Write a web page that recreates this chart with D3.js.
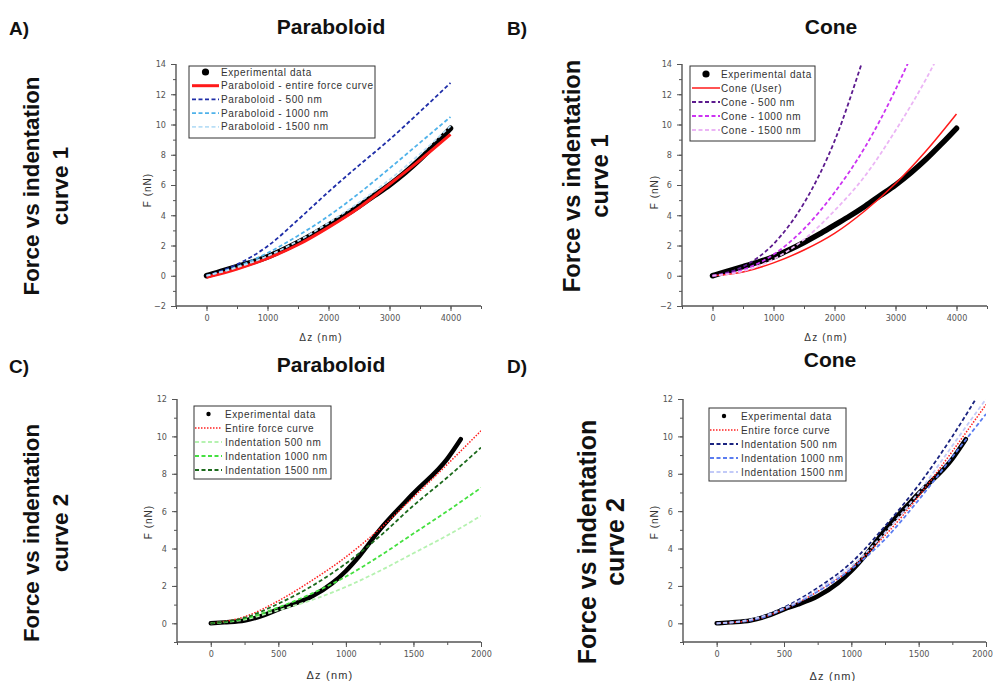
<!DOCTYPE html>
<html>
<head>
<meta charset="utf-8">
<script src="https://cdn.jsdelivr.net/npm/d3@7"></script>
<style>
  body { margin: 0; background: #fff; }
  svg { display: block; }
  .tick text { font-family: "Liberation Sans Narrow", "DejaVu Sans Condensed", "Liberation Sans", sans-serif; font-size: 9px; fill: #555; }
  .lab { font-family: "Liberation Sans", Arial, sans-serif; fill: #333; }
  .big { font-family: "Liberation Sans", Arial, sans-serif; font-weight: bold; fill: #111; }
</style>
</head>
<body>
<div id="chart"></div>
<script>
///////////////////// Data ////////////////////////

// curve 1 (panels A and B), indentation in nm, force in nN
var expZ1 = [0, 100, 250, 500, 750, 1000, 1250, 1500, 1750, 2000, 2250, 2500, 2750, 3000, 3250, 3500, 3750, 4000];
var expF1 = [0, 0.12, 0.3, 0.6, 0.9, 1.25, 1.7, 2.2, 2.75, 3.35, 3.95, 4.6, 5.3, 6.0, 6.8, 7.7, 8.7, 9.75];

var fitZ1 = [0, 500, 1000, 1500, 2000, 2500, 3000, 3500, 4000];
var paraEntire1 = [-0.1, 0.45, 1.15, 2.05, 3.2, 4.5, 6.05, 7.65, 9.35];
var para500_1 = [0, 0.75, 1.95, 3.7, 5.55, 7.3, 9.0, 10.85, 12.75];
var para1000_1 = [0, 0.6, 1.5, 2.65, 3.95, 5.45, 7.1, 8.8, 10.5];
var para1500_1 = [0, 0.55, 1.3, 2.3, 3.5, 4.85, 6.35, 8.05, 9.9];

var coneUser1 = [0, 0.25, 0.85, 1.7, 2.8, 4.3, 6.1, 8.25, 10.7];
var cone500_1 = [0, 0.6, 2.1, 4.8, 8.9, 14.7, 21, 28, 36];
var cone1000_1 = [0, 0.4, 1.4, 3.1, 5.5, 8.5, 12.3, 16.8, 21.9];
var cone1500_1 = [0, 0.3, 1.1, 2.4, 4.3, 6.6, 9.6, 13.0, 17.0];

// curve 2 (panels C and D)
var expZ2 = [0, 100, 250, 400, 500, 600, 750, 900, 1000, 1100, 1250, 1500, 1750, 1850];
var expF2 = [0, 0.05, 0.15, 0.45, 0.75, 1.0, 1.45, 2.15, 2.8, 3.6, 5.0, 6.95, 8.8, 9.85];

var fitZ2 = [0, 250, 500, 750, 1000, 1250, 1500, 1750, 2000];
var paraEntire2 = [0, 0.35, 1.2, 2.3, 3.55, 5.05, 6.75, 8.5, 10.3];
var para500_2 = [0, 0.2, 0.7, 1.25, 1.95, 2.8, 3.75, 4.7, 5.75];
var para1000_2 = [0, 0.25, 0.85, 1.6, 2.5, 3.6, 4.8, 6.0, 7.25];
var para1500_2 = [0, 0.3, 1.05, 2.0, 3.2, 4.65, 6.3, 7.8, 9.4];

var coneEntire2 = [0, 0.15, 0.75, 1.7, 2.95, 4.7, 6.8, 9.2, 11.7];
var cone500_2 = [0, 0.2, 0.85, 1.9, 3.25, 5.2, 7.4, 10.0, 12.9];
var cone1000_2 = [0, 0.15, 0.75, 1.7, 2.9, 4.5, 6.6, 8.9, 11.2];
var cone1500_2 = [0, 0.2, 0.8, 1.8, 3.05, 4.85, 7.0, 9.5, 12.0];

// tick labels
var xTicks1 = [0, 1000, 2000, 3000, 4000];
var yTicks1 = [-2, 0, 2, 4, 6, 8, 10, 12, 14];
var xTicks2 = [0, 500, 1000, 1500, 2000];
var yTicks2 = [0, 2, 4, 6, 8, 10, 12];

//////////////////////////////////////////////////////////////////////

var width = 995, height = 681;
var svg = d3.select("#chart").append("svg")
    .attr("width", width).attr("height", height);

var zip = function(zs, fs) {
    return zs.map(function(z, i) { return [z, fs[i]]; });
};

var panels = [
  {id: "A", letter: "A)", title: "Paraboloid", titleX: 331, titleY: 34,
   letterX: 9, letterY: 35, rowX: 31, rowY: 186, rowSize: 22.4, rowGap: 29, curveNo: "curve 1",
   xDom: [-500, 4500], xRange: [176, 481], yDom: [-2, 14], yRange: [306, 64],
   xMajor: xTicks1, xMinorStep: 500, yMajor: yTicks1, yMinorStep: 1,
   fyX: 147, fyY: 190, dzX: 321, dzY: 341, dzSize: 10,
   expWidth: 5.5, expZ: expZ1, expF: expF1, fitZ: fitZ1,
   legend: {x0: 189, y0: 66, x1: 375, y1: 138, sx0: 192, sx1: 219, tx: 221, rows: [72, 85.7, 99.4, 113.1, 126.8], dot: 3.6, fs: 10},
   series: [
     {name: "Paraboloid - entire force curve", vals: paraEntire1, color: "#ff1a1a", w: 3, dash: null},
     {name: "Paraboloid - 500 nm", vals: para500_1, color: "#1f2ea8", w: 1.8, dash: "4,2.5"},
     {name: "Paraboloid - 1000 nm", vals: para1000_1, color: "#4fb2ea", w: 1.8, dash: "4,2.5"},
     {name: "Paraboloid - 1500 nm", vals: para1500_1, color: "#b8def6", w: 1.8, dash: "4,2.5"}
   ]},
  {id: "B", letter: "B)", title: "Cone", titleX: 831, titleY: 34,
   letterX: 507, letterY: 35, rowX: 572, rowY: 176, rowSize: 23.8, rowGap: 28, curveNo: "curve 1",
   xDom: [-500, 4500], xRange: [682, 987], yDom: [-2, 14], yRange: [306, 64],
   xMajor: xTicks1, xMinorStep: 500, yMajor: yTicks1, yMinorStep: 1,
   fyX: 654, fyY: 192, dzX: 826, dzY: 341, dzSize: 10,
   expWidth: 5.5, expZ: expZ1, expF: expF1, fitZ: fitZ1,
   legend: {x0: 690, y0: 66, x1: 815, y1: 141, sx0: 692, sx1: 720, tx: 721, rows: [74, 88, 102, 116, 130], dot: 3.6, fs: 10},
   series: [
     {name: "Cone (User)", vals: coneUser1, color: "#ff1a1a", w: 1.5, dash: null},
     {name: "Cone - 500 nm", vals: cone500_1, color: "#5c1a8e", w: 1.8, dash: "4,2.5"},
     {name: "Cone - 1000 nm", vals: cone1000_1, color: "#cc33f2", w: 1.8, dash: "4,2.5"},
     {name: "Cone - 1500 nm", vals: cone1500_1, color: "#ebb5f5", w: 1.8, dash: "4,2.5"}
   ]},
  {id: "C", letter: "C)", title: "Paraboloid", titleX: 331, titleY: 372,
   letterX: 9, letterY: 373, rowX: 31, rowY: 533, rowSize: 22.3, rowGap: 29, curveNo: "curve 2",
   xDom: [-250, 2000], xRange: [177, 481], yDom: [-1, 12], yRange: [642, 399],
   xMajor: xTicks2, xMinorStep: 250, yMajor: yTicks2, yMinorStep: 1,
   fyX: 148, fyY: 522, dzX: 330, dzY: 679, dzSize: 11,
   expWidth: 4.5, expZ: expZ2, expF: expF2, fitZ: fitZ2,
   legend: {x0: 194, y0: 406, x1: 331, y1: 479, sx0: 195, sx1: 222, tx: 225, rows: [414, 428, 442, 456, 470], dot: 2.2, fs: 10},
   series: [
     {name: "Entire force curve", vals: paraEntire2, color: "#ff2020", w: 1.5, dash: "1.5,1.5"},
     {name: "Indentation 500 nm", vals: para500_2, color: "#b5f2b0", w: 1.8, dash: "4,2.5"},
     {name: "Indentation 1000 nm", vals: para1000_2, color: "#45e040", w: 1.8, dash: "4,2.5"},
     {name: "Indentation 1500 nm", vals: para1500_2, color: "#1c6a1c", w: 1.8, dash: "4,2.5"}
   ]},
  {id: "D", letter: "D)", title: "Cone", titleX: 830, titleY: 367,
   letterX: 507, letterY: 373, rowX: 587, rowY: 542, rowSize: 25, rowGap: 28, curveNo: "curve 2",
   xDom: [-250, 2000], xRange: [683, 986], yDom: [-1, 12], yRange: [642, 399],
   xMajor: xTicks2, xMinorStep: 250, yMajor: yTicks2, yMinorStep: 1,
   fyX: 654, fyY: 522, dzX: 833, dzY: 680, dzSize: 11,
   expWidth: 4.5, expZ: expZ2, expF: expF2, fitZ: fitZ2,
   legend: {x0: 709, y0: 408, x1: 846, y1: 481, sx0: 710, sx1: 738, tx: 741, rows: [416, 430, 444, 458, 472], dot: 2.2, fs: 10},
   series: [
     {name: "Entire force curve", vals: coneEntire2, color: "#ff2020", w: 1.5, dash: "1.5,1.5"},
     {name: "Indentation 500 nm", vals: cone500_2, color: "#1a2380", w: 1.8, dash: "4,2.5"},
     {name: "Indentation 1000 nm", vals: cone1000_2, color: "#5a7cf0", w: 1.8, dash: "4,2.5"},
     {name: "Indentation 1500 nm", vals: cone1500_2, color: "#c2caf8", w: 1.8, dash: "4,2.5"}
   ]}
];

var drawPanel = function(p) {
    var x = d3.scaleLinear().domain(p.xDom).range(p.xRange);
    var y = d3.scaleLinear().domain(p.yDom).range(p.yRange);
    var g = svg.append("g").attr("class", "panel-" + p.id);

    // clip to the plot area
    g.append("clipPath").attr("id", "clip" + p.id)
      .append("rect")
        .attr("x", p.xRange[0]).attr("y", p.yRange[1])
        .attr("width", p.xRange[1] - p.xRange[0])
        .attr("height", p.yRange[0] - p.yRange[1]);

    // minor ticks
    var xMinor = d3.range(p.xDom[0], p.xDom[1] + 1, p.xMinorStep);
    var yMinor = d3.range(p.yDom[0], p.yDom[1] + 0.01, p.yMinorStep);
    g.append("g").attr("transform", "translate(0," + p.yRange[0] + ")")
      .call(d3.axisBottom(x).tickValues(xMinor).tickSize(3).tickFormat(""))
      .call(function(s) { s.select(".domain").remove(); });
    g.append("g").attr("transform", "translate(" + p.xRange[0] + ",0)")
      .call(d3.axisLeft(y).tickValues(yMinor).tickSize(3).tickFormat(""))
      .call(function(s) { s.select(".domain").remove(); });

    // major ticks with labels
    var xa = g.append("g").attr("transform", "translate(0," + p.yRange[0] + ")")
      .call(d3.axisBottom(x).tickValues(p.xMajor).tickSize(5).tickSizeOuter(0).tickPadding(4).tickFormat(d3.format("d")));
    var ya = g.append("g").attr("transform", "translate(" + p.xRange[0] + ",0)")
      .call(d3.axisLeft(y).tickValues(p.yMajor).tickSize(5).tickSizeOuter(0).tickPadding(5).tickFormat(d3.format("d")));
    g.selectAll(".domain").attr("stroke", "#555").attr("stroke-width", 1.4);
    g.selectAll(".tick line").attr("stroke", "#555").attr("stroke-width", 1);
    xa.select(".domain").attr("d", "M" + p.xRange[0] + ",0H" + p.xRange[1]);
    ya.select(".domain").attr("d", "M0," + p.yRange[0] + "V" + p.yRange[1]);
    // keep the last x label inside the page
    xa.selectAll(".tick text").filter(function(d) { return x(d) > width - 14; })
      .attr("dx", -4);

    // axis titles
    g.append("text").attr("class", "lab")
      .attr("transform", "translate(" + p.fyX + "," + p.fyY + ") rotate(-90)")
      .attr("text-anchor", "middle").attr("dy", "0.35em")
      .style("font-size", "10px").style("letter-spacing", "1px")
      .text("F (nN)");
    g.append("text").attr("class", "lab")
      .attr("x", p.dzX).attr("y", p.dzY)
      .attr("text-anchor", "middle")
      .style("font-size", p.dzSize + "px").style("letter-spacing", "1.2px")
      .text("\u0394z (nm)");

    // data
    var line = d3.line()
        .x(function(d) { return x(d[0]); })
        .y(function(d) { return y(d[1]); })
        .curve(d3.curveMonotoneX);
    var plot = g.append("g").attr("clip-path", "url(#clip" + p.id + ")");

    plot.append("path")
      .attr("d", line(zip(p.expZ, p.expF)))
      .attr("fill", "none").attr("stroke", "#000")
      .attr("stroke-width", p.expWidth)
      .attr("stroke-linecap", "round").attr("stroke-linejoin", "round");

    p.series.forEach(function(s) {
        plot.append("path")
          .attr("d", line(zip(p.fitZ, s.vals)))
          .attr("fill", "none").attr("stroke", s.color)
          .attr("stroke-width", s.w)
          .attr("stroke-dasharray", s.dash);
    });

    // legend
    var L = p.legend;
    var lg = g.append("g");
    lg.append("rect")
      .attr("x", L.x0).attr("y", L.y0)
      .attr("width", L.x1 - L.x0).attr("height", L.y1 - L.y0)
      .attr("fill", "#fff").attr("stroke", "#333").attr("stroke-width", 1);
    lg.append("circle")
      .attr("cx", (L.sx0 + L.sx1) / 2).attr("cy", L.rows[0])
      .attr("r", L.dot).attr("fill", "#000");
    var labels = ["Experimental data"].concat(p.series.map(function(s) { return s.name; }));
    p.series.forEach(function(s, i) {
        lg.append("line")
          .attr("x1", L.sx0).attr("x2", L.sx1)
          .attr("y1", L.rows[i + 1]).attr("y2", L.rows[i + 1])
          .attr("stroke", s.color).attr("stroke-width", s.w)
          .attr("stroke-dasharray", s.dash);
    });
    labels.forEach(function(t, i) {
        lg.append("text").attr("class", "lab")
          .attr("x", L.tx).attr("y", L.rows[i]).attr("dy", "0.35em")
          .style("font-size", L.fs + "px").style("letter-spacing", "0.6px")
          .text(t);
    });

    // titles and panel letters
    g.append("text").attr("class", "big")
      .attr("x", p.titleX).attr("y", p.titleY)
      .attr("text-anchor", "middle").style("font-size", "21px")
      .text(p.title);
    g.append("text").attr("class", "big")
      .attr("x", p.letterX).attr("y", p.letterY)
      .style("font-size", "19px")
      .text(p.letter);

    // row label
    var row = g.append("text").attr("class", "big")
      .attr("transform", "translate(" + p.rowX + "," + p.rowY + ") rotate(-90)")
      .attr("text-anchor", "middle")
      .style("font-size", p.rowSize + "px");
    row.append("tspan").attr("x", 0).attr("dy", "0.35em").text("Force vs indentation");
    row.append("tspan").attr("x", 0).attr("dy", p.rowGap).text(p.curveNo);
};

panels.forEach(drawPanel);
</script>
</body>
</html>
